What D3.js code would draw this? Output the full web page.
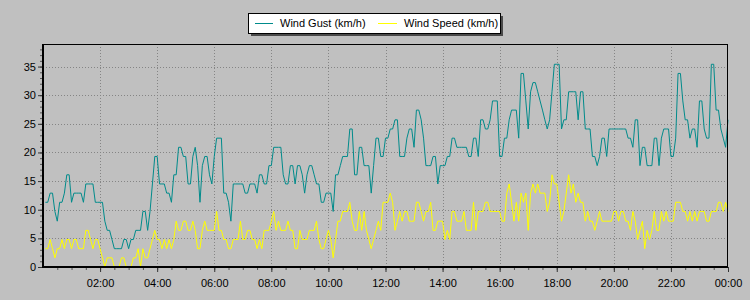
<!DOCTYPE html>
<html>
<head>
<meta charset="utf-8">
<script src="https://cdn.jsdelivr.net/npm/d3@7"></script>
<style>
  body { margin: 0; background: #c0c0c0; }
  svg { display: block; font-family: "Liberation Sans", Arial, sans-serif; }
</style>
</head>
<body>
<div id="chart"></div>
<script>
// Readings every 5 minutes, from 00:05 to 24:00 (km/h)
const gustKmh = [
  11.3,11.3,12.9,12.9,9.7,8.0,11.3,11.3,12.9,16.1,
  16.1,11.3,12.9,12.9,12.9,12.9,11.3,14.5,14.5,14.5,
  14.5,11.3,11.3,11.3,11.3,8.0,6.4,6.4,4.8,3.2,
  3.2,3.2,3.2,4.8,4.8,3.2,4.8,4.8,6.4,6.4,
  6.4,9.7,9.7,6.4,9.7,14.5,19.3,19.3,14.5,14.5,
  14.5,12.9,12.9,11.3,16.1,16.1,20.9,20.9,19.3,19.3,
  14.5,14.5,19.3,20.9,17.7,11.3,17.7,19.3,19.3,16.1,
  14.5,19.3,22.5,22.5,22.5,12.9,12.9,11.3,8.0,14.5,
  14.5,14.5,14.5,14.5,12.9,12.9,14.5,14.5,14.5,12.9,
  16.1,16.1,14.5,14.5,17.7,17.7,20.9,20.9,20.9,20.9,
  16.1,14.5,14.5,17.7,17.7,14.5,17.7,17.7,16.1,12.9,
  16.1,17.7,17.7,16.1,14.5,14.5,11.3,11.3,12.9,12.9,
  12.9,9.7,16.1,16.1,17.7,19.3,19.3,19.3,24.1,24.1,
  16.1,16.1,20.9,20.9,17.7,17.7,17.7,12.9,17.7,22.5,
  22.5,19.3,19.3,22.5,22.5,24.1,24.1,25.7,25.7,19.3,
  19.3,19.3,22.5,24.1,24.1,20.9,27.4,27.4,25.7,22.5,
  17.7,17.7,17.7,19.3,19.3,14.5,17.7,17.7,17.7,19.3,
  19.3,22.5,22.5,20.9,20.9,20.9,20.9,20.9,19.3,19.3,
  22.5,22.5,19.3,25.7,25.7,24.1,24.1,25.7,29.0,29.0,
  29.0,19.3,19.3,22.5,22.5,25.7,27.4,27.4,27.4,22.5,
  33.8,33.8,29.0,24.1,30.6,32.2,32.2,30.6,29.0,27.4,
  25.7,24.1,25.7,30.6,35.4,35.4,35.4,24.1,25.7,25.7,
  30.6,30.6,30.6,30.6,25.7,30.6,30.6,24.1,24.1,24.1,
  19.3,19.3,17.7,19.3,22.5,22.5,19.3,24.1,24.1,24.1,
  24.1,24.1,24.1,24.1,24.1,22.5,22.5,20.9,25.7,25.7,
  17.7,20.9,20.9,17.7,17.7,17.7,22.5,22.5,17.7,22.5,
  24.1,24.1,24.1,19.3,19.3,22.5,33.8,33.8,29.0,25.7,
  25.7,22.5,24.1,24.1,20.9,29.0,29.0,24.1,22.5,22.5,
  35.4,35.4,27.4,27.4,24.1,22.5,20.9,25.7
];

const speedKmh = [
  3.2,3.2,4.8,3.2,1.6,3.2,3.2,4.8,3.2,4.8,
  4.8,3.2,4.8,4.8,3.2,3.2,3.2,6.4,6.4,4.8,
  3.2,4.8,4.8,3.2,1.6,0,1.6,1.6,1.6,0,
  0,0,1.6,1.6,0,0,0,1.6,1.6,3.2,
  0,3.2,1.6,1.6,3.2,4.8,6.4,4.8,4.8,3.2,
  4.8,3.2,4.8,3.2,4.8,8.0,6.4,6.4,8.0,8.0,
  6.4,6.4,8.0,6.4,3.2,3.2,6.4,8.0,6.4,6.4,
  6.4,6.4,9.7,6.4,6.4,4.8,4.8,3.2,3.2,4.8,
  4.8,4.8,8.0,4.8,4.8,6.4,6.4,4.8,4.8,3.2,
  4.8,3.2,6.4,6.4,6.4,8.0,9.7,6.4,8.0,6.4,
  6.4,6.4,8.0,6.4,6.4,3.2,3.2,6.4,4.8,4.8,
  4.8,6.4,6.4,6.4,8.0,4.8,3.2,3.2,4.8,6.4,
  4.8,1.6,4.8,8.0,8.0,9.7,9.7,9.7,11.3,8.0,
  6.4,6.4,9.7,6.4,9.7,6.4,4.8,3.2,4.8,6.4,
  8.0,6.4,11.3,11.3,11.3,12.9,11.3,6.4,8.0,9.7,
  8.0,9.7,9.7,8.0,8.0,8.0,11.3,11.3,9.7,8.0,
  9.7,9.7,11.3,6.4,6.4,8.0,8.0,8.0,4.8,6.4,
  4.8,9.7,9.7,8.0,8.0,8.0,9.7,6.4,6.4,6.4,
  11.3,6.4,9.7,9.7,9.7,11.3,11.3,9.7,9.7,9.7,
  9.7,9.7,8.0,8.0,12.9,14.5,11.3,8.0,11.3,8.0,
  12.9,11.3,12.9,6.4,12.9,14.5,12.9,14.5,12.9,12.9,
  12.9,9.7,11.3,16.1,14.5,14.5,11.3,8.0,9.7,12.9,
  16.1,12.9,14.5,11.3,12.9,11.3,11.3,8.0,9.7,8.0,
  8.0,6.4,8.0,9.7,8.0,8.0,8.0,8.0,8.0,9.7,
  9.7,8.0,9.7,9.7,8.0,8.0,6.4,9.7,8.0,4.8,
  6.4,8.0,3.2,6.4,4.8,6.4,9.7,6.4,6.4,9.7,
  8.0,9.7,8.0,8.0,8.0,11.3,11.3,11.3,9.7,9.7,
  8.0,9.7,8.0,9.7,8.0,9.7,9.7,9.7,8.0,8.0,
  9.7,9.7,9.7,11.3,11.3,9.7,11.3,9.7
];

const seriesNames = ["Wind Gust (km/h)", "Wind Speed (km/h)"];
const seriesColors = ["#008b8b", "#ffff00"];
const yTickValues = [0, 5, 10, 15, 20, 25, 30, 35];
const yMax = 38.94;

const dayStart = new Date(2024, 0, 1, 0, 0);
const dayEnd = new Date(2024, 0, 2, 0, 0);
const firstReading = new Date(2024, 0, 1, 0, 5);
const stepMinutes = 5;

const times = gustKmh.map((_, i) => d3.timeMinute.offset(firstReading, i * stepMinutes));

const width = 750;
const height = 300;
const marginTop = 44;
const marginRight = 22;
const marginBottom = 33;
const marginLeft = 43;

// Declare the x (time) scale.
const x = d3.scaleTime()
  .domain([dayStart, dayEnd])
  .range([marginLeft, width - marginRight]);

// Declare the y (km/h) scale.
const y = d3.scaleLinear()
  .domain([0, yMax])
  .range([height - marginBottom, marginTop]);

const svg = d3.select("#chart").append("svg")
  .attr("width", width)
  .attr("height", height);

svg.append("rect")
  .attr("width", width)
  .attr("height", height)
  .attr("fill", "#c0c0c0");

const majorTimes = d3.timeHour.every(2).range(d3.timeHour.offset(dayStart, 2), d3.timeMinute.offset(dayEnd, 1));
const minorTimes = d3.timeMinute.every(30).range(d3.timeMinute.offset(dayStart, 30), d3.timeMinute.offset(dayEnd, 1));
const minorY = d3.range(1, Math.floor(yMax) + 1);

// Dotted grid
const grid = svg.append("g")
  .attr("stroke", "#858585")
  .attr("stroke-dasharray", "1,2")
  .attr("shape-rendering", "crispEdges");

grid.selectAll(".h")
  .data(yTickValues.filter(v => v > 0))
  .join("line")
  .attr("x1", marginLeft)
  .attr("x2", width - marginRight)
  .attr("y1", d => Math.round(y(d)) + 0.5)
  .attr("y2", d => Math.round(y(d)) + 0.5);

grid.selectAll(".v")
  .data(majorTimes.filter(t => t < dayEnd))
  .join("line")
  .attr("x1", d => Math.round(x(d)) + 0.5)
  .attr("x2", d => Math.round(x(d)) + 0.5)
  .attr("y1", marginTop)
  .attr("y2", height - marginBottom);

// Minor y ticks
svg.append("g")
  .attr("transform", `translate(${marginLeft},0)`)
  .call(d3.axisLeft(y).tickValues(minorY).tickSize(3).tickFormat(""))
  .call(g => g.select(".domain").remove())
  .call(g => g.selectAll("line").attr("stroke", "#555"));

// Major y axis
svg.append("g")
  .attr("transform", `translate(${marginLeft},0)`)
  .call(d3.axisLeft(y).tickValues(yTickValues).tickSize(5).tickPadding(2))
  .call(g => g.select(".domain").remove())
  .call(g => g.selectAll("line").attr("stroke", "#333"))
  .call(g => g.selectAll("text").attr("font-size", 11).attr("fill", "#000")
    .attr("font-family", "'Liberation Sans', Arial, sans-serif"));

// Minor x ticks
svg.append("g")
  .attr("transform", `translate(0,${height - marginBottom})`)
  .call(d3.axisBottom(x).tickValues(minorTimes).tickSize(3).tickFormat(""))
  .call(g => g.select(".domain").remove())
  .call(g => g.selectAll("line").attr("stroke", "#555"));

// Major x axis
svg.append("g")
  .attr("transform", `translate(0,${height - marginBottom})`)
  .call(d3.axisBottom(x).tickValues(majorTimes).tickSize(5).tickPadding(7).tickFormat(d3.timeFormat("%H:%M")))
  .call(g => g.select(".domain").remove())
  .call(g => g.selectAll("line").attr("stroke", "#333"))
  .call(g => g.selectAll("text").attr("font-size", 11).attr("fill", "#000")
    .attr("font-family", "'Liberation Sans', Arial, sans-serif"));

// Lines
const line = d3.line()
  .x((d, i) => x(times[i]))
  .y(d => y(d));

[gustKmh, speedKmh].forEach((values, k) => {
  svg.append("path")
    .datum(values)
    .attr("fill", "none")
    .attr("stroke", seriesColors[k])
    .attr("stroke-width", 1)
    .attr("d", line);
});

// Plot frame
svg.append("rect")
  .attr("x", marginLeft + 0.5)
  .attr("y", marginTop + 0.5)
  .attr("width", width - marginRight - marginLeft - 1)
  .attr("height", height - marginBottom - marginTop - 1)
  .attr("fill", "none")
  .attr("stroke", "#000");

svg.append("line")
  .attr("x1", marginLeft).attr("x2", marginLeft)
  .attr("y1", marginTop).attr("y2", height - marginBottom + 1)
  .attr("stroke", "#000").attr("stroke-width", 2);

svg.append("line")
  .attr("x1", marginLeft).attr("x2", width - marginRight)
  .attr("y1", height - marginBottom).attr("y2", height - marginBottom)
  .attr("stroke", "#000").attr("stroke-width", 2);

// Legend
const legend = svg.append("g").attr("transform", "translate(248,13)");
legend.append("rect")
  .attr("x", 3).attr("y", 3)
  .attr("width", 252).attr("height", 20)
  .attr("fill", "#4a4a4a");
legend.append("rect")
  .attr("x", 0.5).attr("y", 0.5)
  .attr("width", 252).attr("height", 20)
  .attr("fill", "#fff")
  .attr("stroke", "#000");

const legendX = [[7, 25, 32], [130, 149, 156]];
seriesNames.forEach((name, k) => {
  legend.append("line")
    .attr("x1", legendX[k][0]).attr("x2", legendX[k][1])
    .attr("y1", 10.5).attr("y2", 10.5)
    .attr("stroke", seriesColors[k]);
  legend.append("text")
    .attr("x", legendX[k][2])
    .attr("y", 10.5)
    .attr("dy", "0.35em")
    .attr("font-size", 11)
    .attr("fill", "#000")
    .text(name);
});
</script>
</body>
</html>
